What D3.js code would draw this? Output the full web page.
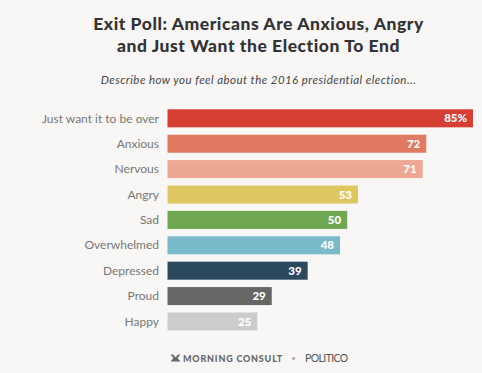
<!DOCTYPE html>
<html>
  <head>
    <script src="https://d3js.org/d3.v7.min.js"></script>
    <style>
      body {
        margin: 0;
        background-color: #f8f7f6;
      }
      svg {
        display: block;
      }
    </style>
  </head>
  <body>
    <div id="chartContainer"></div>
  </body>

  <script type="text/javascript">
    const categories = [
      "Just want it to be over",
      "Anxious",
      "Nervous",
      "Angry",
      "Sad",
      "Overwhelmed",
      "Depressed",
      "Proud",
      "Happy",
    ];
    const values = [85, 72, 71, 53, 50, 48, 39, 29, 25];
    const colors = [
      "#d63d33",
      "#e07b62",
      "#eda792",
      "#dec760",
      "#6ea652",
      "#7abaca",
      "#2c4a5f",
      "#666666",
      "#cccccc",
    ];

    const width = 482,
      height = 373;

    const svg = d3
      .select("#chartContainer")
      .append("svg")
      .attr("width", width)
      .attr("height", height);

    svg
      .append("rect")
      .attr("width", width)
      .attr("height", height)
      .attr("fill", "#f8f7f6");

    // title
    const title = svg
      .append("text")
      .attr("text-anchor", "middle")
      .style("font-family", "Lato")
      .style("font-weight", "900")
      .style("font-size", "17.5px")
      .style("letter-spacing", "0.55px")
      .attr("fill", "#333");
    title
      .append("tspan")
      .attr("x", 258.5)
      .attr("y", 30)
      .text("Exit Poll: Americans Are Anxious, Angry");
    title
      .append("tspan")
      .attr("x", 258.5)
      .attr("y", 52)
      .text("and Just Want the Election To End");

    svg
      .append("text")
      .attr("x", 258.5)
      .attr("y", 84)
      .attr("text-anchor", "middle")
      .style("font-family", "Lato")
      .style("font-style", "italic")
      .style("font-size", "11.5px")
      .style("letter-spacing", "0.45px")
      .attr("fill", "#444")
      .text("Describe how you feel about the 2016 presidential election...");

    const x = d3.scaleLinear().domain([0, 85]).range([167.5, 473]);
    const y = d3
      .scaleBand()
      .domain(categories)
      .range([109.3, 330.5])
      .paddingInner(0.29)
      .paddingOuter(0);

    const rows = svg
      .selectAll("g.row")
      .data(categories)
      .enter()
      .append("g")
      .attr("class", "row");

    rows
      .append("rect")
      .attr("x", x(0))
      .attr("y", (d) => y(d))
      .attr("width", (d, i) => x(values[i]) - x(0))
      .attr("height", y.bandwidth())
      .attr("fill", (d, i) => colors[i]);

    rows
      .append("text")
      .attr("x", x(0) - 8.5)
      .attr("y", (d) => y(d) + y.bandwidth() / 2)
      .attr("dy", "0.35em")
      .attr("text-anchor", "end")
      .style("font-family", "Lato")
      .style("font-size", "12px")
      .attr("fill", "#777")
      .text((d) => d);

    rows
      .append("text")
      .attr("x", (d, i) => x(values[i]) - 6)
      .attr("y", (d) => y(d) + y.bandwidth() / 2)
      .attr("dy", "0.35em")
      .attr("text-anchor", "end")
      .style("font-family", "Lato")
      .style("font-weight", "900")
      .style("font-size", "11.5px")
      .attr("fill", "#fff")
      .text((d, i) => (i === 0 ? values[i] + "%" : values[i]));

    // footer
    const footer = svg.append("g").attr("transform", "translate(0,358)");
    footer
      .append("path")
      .attr(
        "d",
        "M170.5,-3.5 L173,-3.5 L175.5,-0.5 L178,-3.5 L180.5,-3.5 L177.5,0 L180.5,3.5 L170.5,3.5 L173.5,0 Z"
      )
      .attr("fill", "#666");
    footer
      .append("text")
      .attr("x", 183)
      .attr("y", 3.5)
      .style("font-family", "Lato")
      .style("font-weight", "900")
      .style("font-size", "9px")
      .style("letter-spacing", "0.8px")
      .attr("fill", "#666")
      .text("MORNING CONSULT");
    footer
      .append("text")
      .attr("x", 293.5)
      .attr("y", 3)
      .attr("text-anchor", "middle")
      .style("font-family", "Lato")
      .style("font-size", "8px")
      .attr("fill", "#aaa")
      .text("•");
    footer
      .append("text")
      .attr("x", 305)
      .attr("y", 3.5)
      .style("font-family", "Lato")
      .style("font-size", "10.5px")
      .style("letter-spacing", "-0.6px")
      .attr("fill", "#555")
      .text("POLITICO");
  </script>
</html>
